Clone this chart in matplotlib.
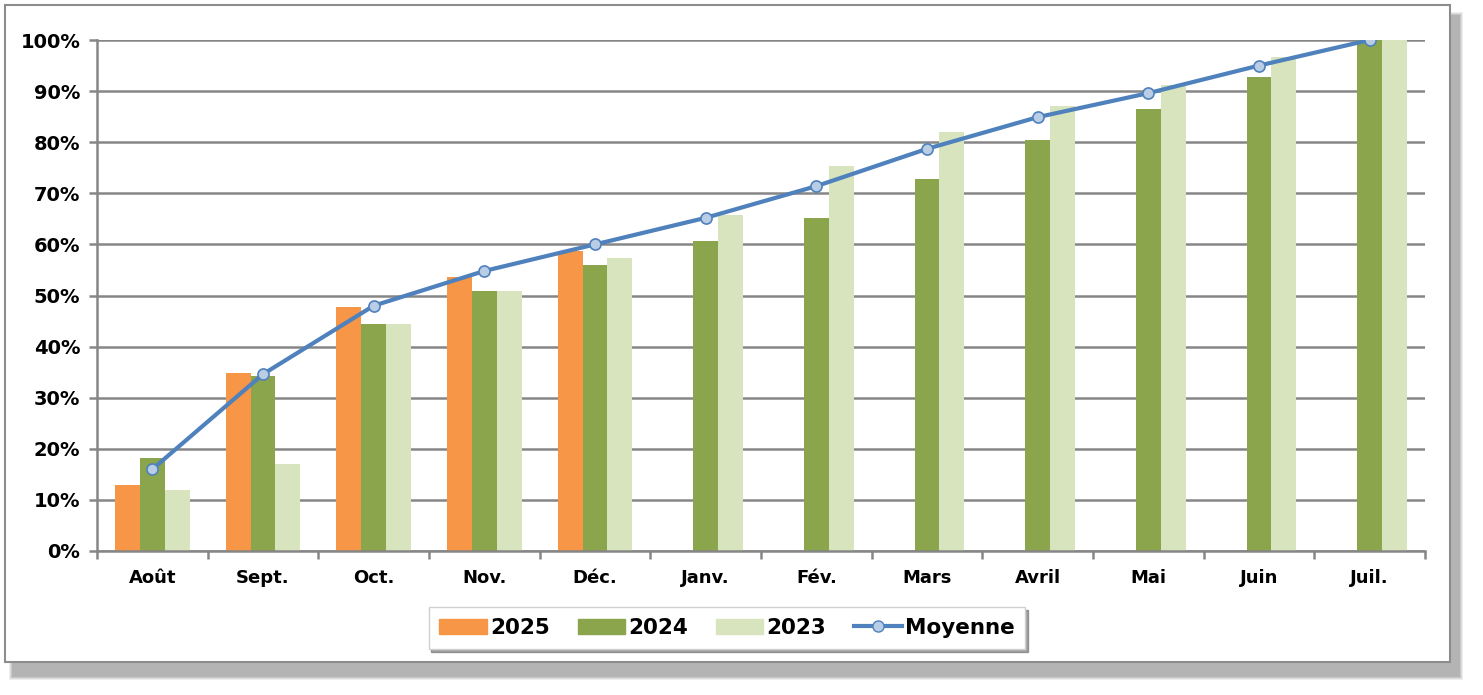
import matplotlib
matplotlib.use("Agg")
import matplotlib.pyplot as plt
import numpy as np
from matplotlib.patches import Rectangle
from matplotlib.lines import Line2D

mois = ["Août", "Sept.", "Oct.", "Nov.", "Déc.", "Janv.", "Fév.", "Mars",
        "Avril", "Mai", "Juin", "Juil."]
v2025 = [13.0, 34.8, 47.7, 53.6, 58.7, None, None, None, None, None, None, None]
v2024 = [18.2, 34.2, 44.4, 50.9, 56.0, 60.7, 65.2, 72.8, 80.4, 86.5, 92.8, 100.0]
v2023 = [11.9, 17.0, 44.4, 50.9, 57.3, 65.8, 75.3, 82.0, 87.1, 91.2, 96.7, 100.0]
moyenne = [16.0, 34.6, 48.0, 54.8, 60.0, 65.2, 71.4, 78.7, 84.9, 89.6, 95.0, 100.0]
yticks = list(range(0, 101, 10))

C25, C24, C23 = "#F79646", "#8AA54C", "#D8E4BE"
CLINE, CMARK = "#4F81BD", "#B9CDE5"
GRID = "#868686"
FONT = "DejaVu Sans"

fig = plt.figure(figsize=(14.83, 6.95), dpi=100)
fig.patch.set_facecolor("white")

# outer chart frame with a soft drop shadow (a few stacked translucent layers)
for i, a in enumerate([0.12, 0.15, 0.2, 0.25]):
    d = 3 - i
    fig.patches.append(Rectangle(((12 - d) / 1483, (18 - d) / 695), (1448 + 2 * d) / 1483,
                                 (662 + 2 * d) / 695, transform=fig.transFigure,
                                 facecolor="#7a7a7a", edgecolor="none", alpha=a, zorder=-3))
fig.patches.append(Rectangle((5 / 1483, 33 / 695), 1445 / 1483, 657 / 695, transform=fig.transFigure,
                             facecolor="white", edgecolor="#8c8c8c", linewidth=1.5, zorder=-2))

ax = fig.add_axes([97 / 1483, (695 - 551) / 695, (1425 - 97) / 1483, (551 - 40) / 695])
ax.set_facecolor("none")

x = np.arange(len(mois))
w = 0.225
b25 = [np.nan if v is None else v for v in v2025]
ax.bar(x - w, b25, w, color=C25, zorder=2, label="2025")
ax.bar(x, v2024, w, color=C24, zorder=2, label="2024")
ax.bar(x + w, v2023, w, color=C23, zorder=2, label="2023")
ax.plot(x, moyenne, color=CLINE, linewidth=3, marker="o", markersize=8,
        markerfacecolor=CMARK, markeredgecolor=CLINE, markeredgewidth=1.2, zorder=3,
        label="Moyenne")

ax.set_xlim(-0.5, len(mois) - 0.5)
ax.set_ylim(0, 100)
ax.set_yticks(yticks)
ax.set_yticklabels([f"{t}%" for t in yticks], fontsize=14, fontweight="bold", family=FONT)
ax.yaxis.grid(True, color=GRID, linewidth=1.8, zorder=0)
ax.set_axisbelow(True)

ax.set_xticks(x)
ax.set_xticklabels(mois, fontsize=13, fontweight="bold", family=FONT)
ax.set_xticks(np.arange(-0.5, len(mois)), minor=True)
ax.tick_params(axis="x", which="major", length=0, pad=13)
ax.tick_params(axis="x", which="minor", length=6, width=1.8, color=GRID, direction="out")
ax.tick_params(axis="y", length=6, width=1.8, color=GRID, pad=6)

for s in ["top", "right"]:
    ax.spines[s].set_visible(False)
for s in ["left", "bottom"]:
    ax.spines[s].set_color(GRID)
    ax.spines[s].set_linewidth(1.8)

handles = [Rectangle((0, 0), 1, 1, color=C25), Rectangle((0, 0), 1, 1, color=C24),
           Rectangle((0, 0), 1, 1, color=C23),
           Line2D([0], [0], color=CLINE, linewidth=3, marker="o", markersize=8,
                  markerfacecolor=CMARK, markeredgecolor=CLINE)]
leg = fig.legend(handles, ["2025", "2024", "2023", "Moyenne"], ncol=4,
                 loc="center", bbox_to_anchor=(727 / 1483, 67 / 695),
                 prop={"family": FONT, "weight": "bold", "size": 15.5},
                 frameon=True, fancybox=False, shadow=True, edgecolor="#d0d0d0",
                 handlelength=2.2, handleheight=0.75, columnspacing=1.3, handletextpad=0.15,
                 borderpad=0.5)
leg.get_frame().set_linewidth(1.0)

fig.savefig("out.png", dpi=100)
